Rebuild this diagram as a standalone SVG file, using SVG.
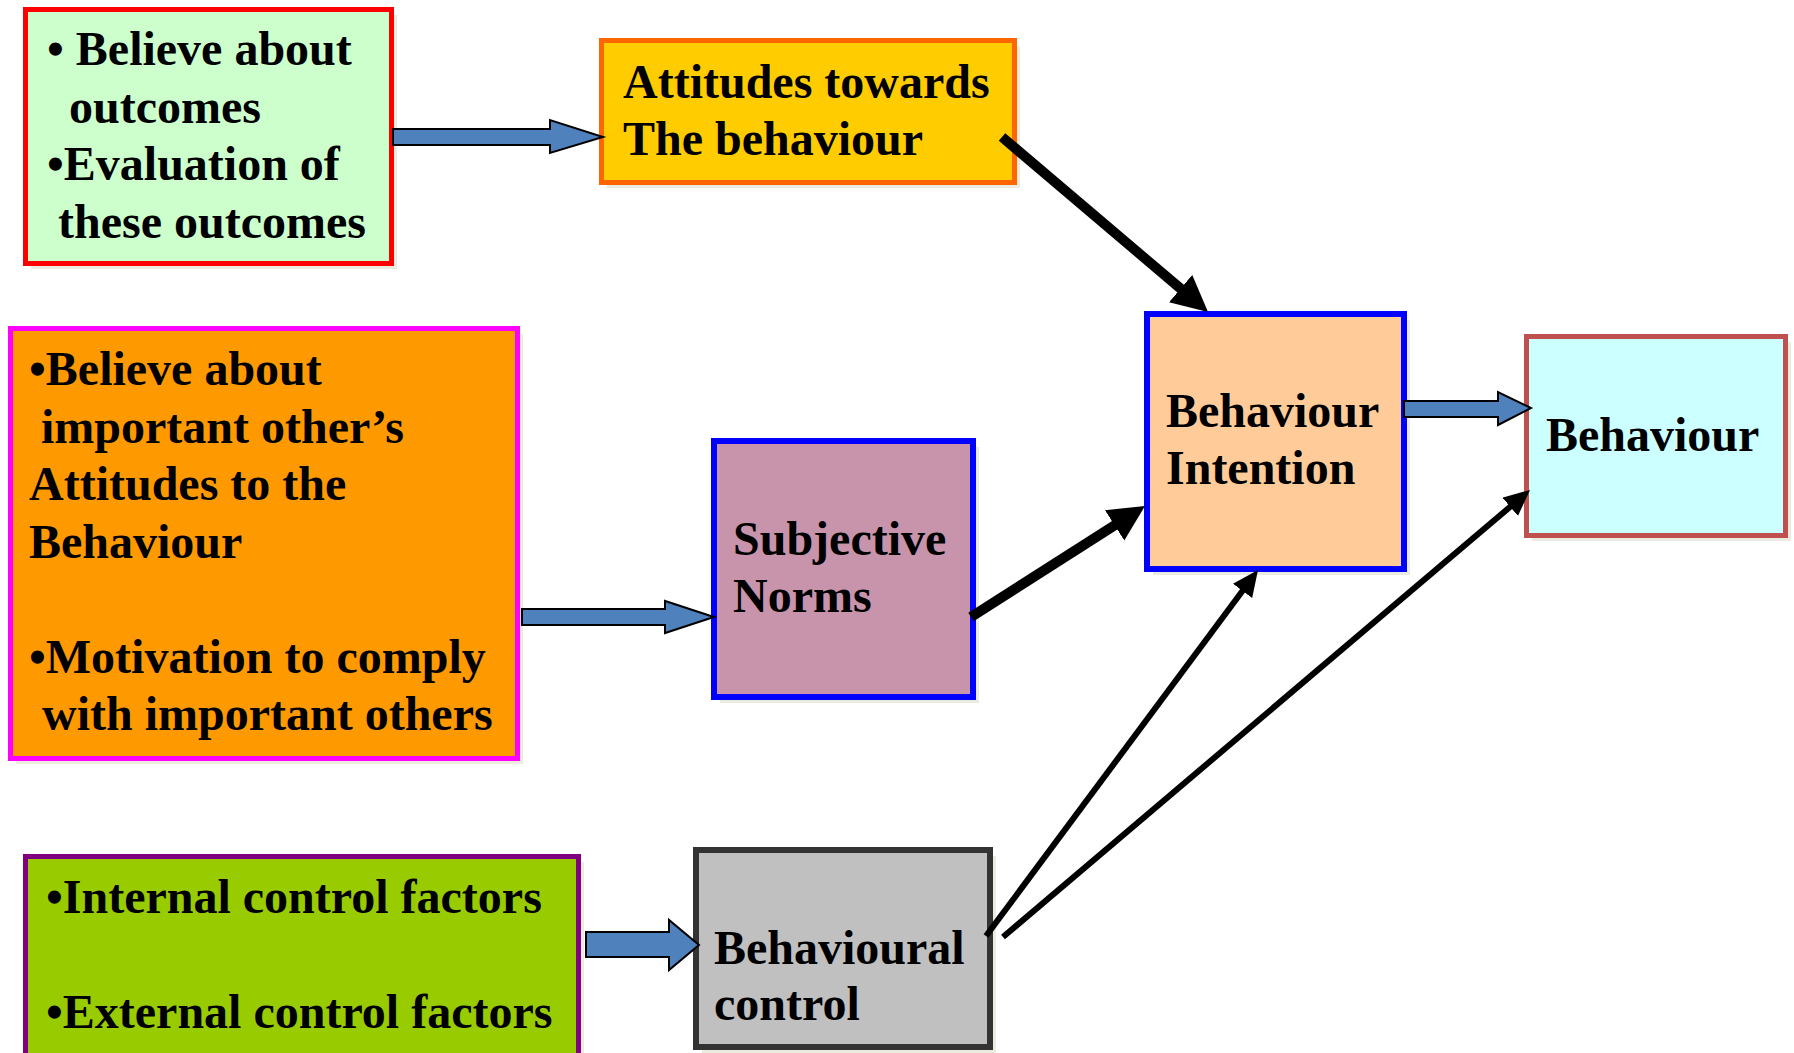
<svg xmlns="http://www.w3.org/2000/svg" width="1794" height="1053" viewBox="0 0 1794 1053">
<style>
  .t { font-family: "Liberation Serif", "Times New Roman", serif; font-weight: bold; font-size: 48px; fill: #000; }
  .sh { fill: #EBEBDF; }
  .blk { fill: #4F81BD; stroke: #000; stroke-width: 2; stroke-linejoin: miter; }
  .thick { stroke: #000; stroke-width: 10; fill: none; }
  .thin { stroke: #000; stroke-width: 6; fill: none; }
</style>
<defs>
  <marker id="headBig" markerUnits="userSpaceOnUse" markerWidth="37" markerHeight="37" refX="2" refY="18" orient="auto">
    <path d="M0,0 L36,18 L0,36 z" fill="#000"/>
  </marker>
  <marker id="headSmall" markerUnits="userSpaceOnUse" markerWidth="27" markerHeight="25" refX="2" refY="12" orient="auto">
    <path d="M0,0 L26,12 L0,24 z" fill="#000"/>
  </marker>
</defs>
<rect width="1794" height="1053" fill="#fff"/>

<g id="beliefs-outcomes">
  <rect class="sh" x="31" y="15" width="366" height="254"/>
  <rect x="25.5" y="9.5" width="366" height="254" fill="#CCFFCC" stroke="#FF0000" stroke-width="5"/>
  <text class="t" x="47" y="65" xml:space="preserve">• Believe about</text>
  <text class="t" x="69" y="123">outcomes</text>
  <text class="t" x="47" y="180">•Evaluation of</text>
  <text class="t" x="58" y="238">these outcomes</text>
</g>

<g id="attitudes">
  <rect class="sh" x="607" y="46" width="413" height="142"/>
  <rect x="601.5" y="40.5" width="413" height="142" fill="#FFCC00" stroke="#FF6600" stroke-width="5"/>
  <text class="t" x="623" y="98">Attitudes towards</text>
  <text class="t" x="623" y="155">The behaviour</text>
</g>

<g id="normative-beliefs">
  <rect class="sh" x="16" y="334" width="507" height="430"/>
  <rect x="10.5" y="328.5" width="507" height="430" fill="#FF9900" stroke="#FF00FF" stroke-width="5"/>
  <text class="t" x="29" y="385">•Believe about</text>
  <text class="t" x="41" y="443">important other’s</text>
  <text class="t" x="29" y="500">Attitudes to the</text>
  <text class="t" x="29" y="558">Behaviour</text>
  <text class="t" x="29" y="673">•Motivation to comply</text>
  <text class="t" x="42" y="730">with important others</text>
</g>

<g id="subjective-norms">
  <rect class="sh" x="720" y="447" width="259" height="256"/>
  <rect x="714" y="441" width="259" height="256" fill="#C794AB" stroke="#0000FF" stroke-width="6"/>
  <text class="t" x="733" y="555">Subjective</text>
  <text class="t" x="733" y="612">Norms</text>
</g>

<g id="behaviour-intention">
  <rect class="sh" x="1153" y="320" width="257" height="255"/>
  <rect x="1147" y="314" width="257" height="255" fill="#FFCC99" stroke="#0000FF" stroke-width="6"/>
  <text class="t" x="1166" y="427">Behaviour</text>
  <text class="t" x="1166" y="484">Intention</text>
</g>

<g id="behaviour">
  <rect class="sh" x="1532" y="342" width="259" height="199"/>
  <rect x="1526.5" y="336.5" width="259" height="199" fill="#CCFFFF" stroke="#C0504D" stroke-width="5"/>
  <text class="t" x="1546" y="451">Behaviour</text>
</g>

<g id="control-factors">
  <rect class="sh" x="31" y="862" width="553" height="210"/>
  <rect x="25.5" y="856.5" width="553" height="210" fill="#99CC00" stroke="#800080" stroke-width="5"/>
  <text class="t" x="46" y="913">•Internal control factors</text>
  <text class="t" x="46" y="1028">•External control factors</text>
</g>

<g id="behavioural-control">
  <rect class="sh" x="702" y="856" width="294" height="197"/>
  <rect x="696" y="850" width="294" height="197" fill="#C0C0C0" stroke="#333333" stroke-width="6"/>
  <text class="t" x="714" y="964">Behavioural</text>
  <text class="t" x="714" y="1020">control</text>
</g>

<g id="connectors">
  <polygon class="blk" points="393,129 550,129 550,120 603,137 550,153 550,145 393,145"/>
  <polygon class="blk" points="522,609 665,609 665,601 714,617 665,633 665,625 522,625"/>
  <polygon class="blk" points="586,932 669,932 669,920 699,945 669,970 669,957 586,957"/>
  <polygon class="blk" points="1404,401 1498,401 1498,392 1531,408 1498,425 1498,417 1404,417"/>
  <line class="thick" x1="1002" y1="137" x2="1182.1" y2="289.9" marker-end="url(#headBig)"/>
  <line class="thick" x1="971" y1="617" x2="1116.3" y2="524.3" marker-end="url(#headBig)"/>
  <line class="thin" x1="986" y1="936" x2="1243.7" y2="589.3" marker-end="url(#headSmall)"/>
  <line class="thin" x1="1003" y1="937" x2="1511.7" y2="505.5" marker-end="url(#headSmall)"/>
</g>
</svg>
